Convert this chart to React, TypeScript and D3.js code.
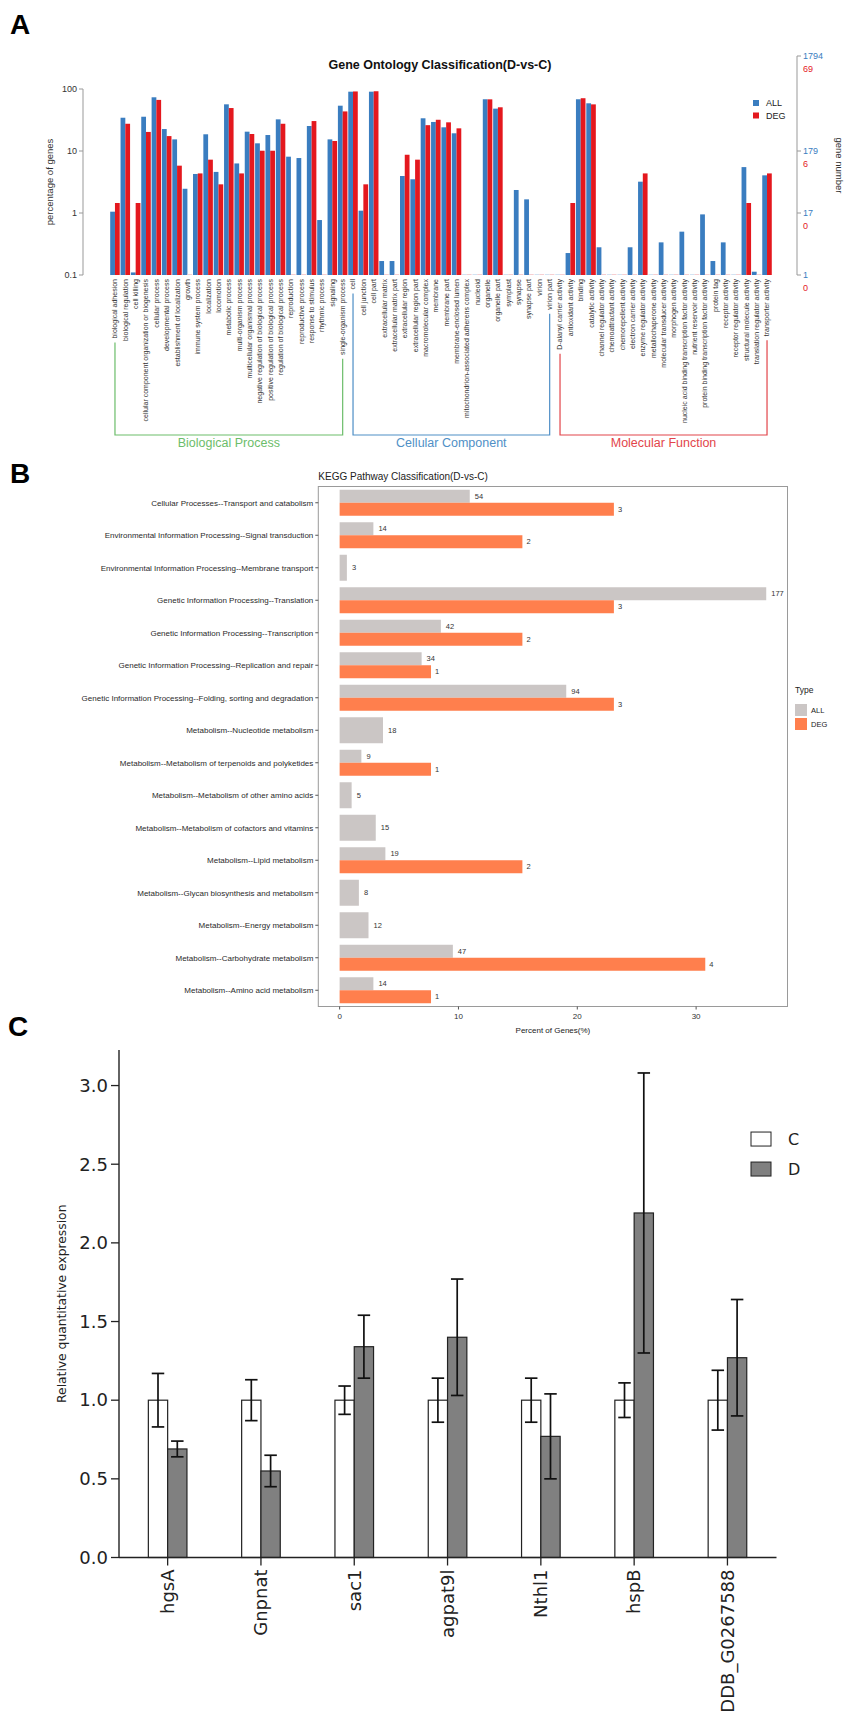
import React from 'react';
import * as d3 from 'd3';

// ---------------- Panel A data (GO classification) ----------------
const goCategories = [
  'biological adhesion', 'biological regulation', 'cell killing',
  'cellular component organization or biogenesis', 'cellular process',
  'developmental process', 'establishment of localization', 'growth',
  'immune system process', 'localization', 'locomotion', 'metabolic process',
  'multi-organism process', 'multicellular organismal process',
  'negative regulation of biological process', 'positive regulation of biological process',
  'regulation of biological process', 'reproduction', 'reproductive process',
  'response to stimulus', 'rhythmic process', 'signaling', 'single-organism process',
  'cell', 'cell junction', 'cell part', 'extracellular matrix', 'extracellular matrix part',
  'extracellular region', 'extracellular region part', 'macromolecular complex', 'membrane',
  'membrane part', 'membrane-enclosed lumen', 'mitochondrion-associated adherens complex',
  'nucleoid', 'organelle', 'organelle part', 'symplast', 'synapse', 'synapse part', 'virion',
  'virion part',
  'D-alanyl carrier activity', 'antioxidant activity', 'binding', 'catalytic activity',
  'channel regulator activity', 'chemoattractant activity', 'chemorepellent activity',
  'electron carrier activity', 'enzyme regulator activity', 'metallochaperone activity',
  'molecular transducer activity', 'morphogen activity',
  'nucleic acid binding transcription factor activity', 'nutrient reservoir activity',
  'protein binding transcription factor activity', 'protein tag', 'receptor activity',
  'receptor regulator activity', 'structural molecule activity',
  'translation regulator activity', 'transporter activity',
];

const goAll: (number | null)[] = [
  1.05, 34.4, 0.11, 35.7, 73.5, 22.6, 15.4, 2.46, 4.26, 18.6, 4.6, 56.6, 6.3, 20.5, 13.3, 18.1,
  32.4, 8.1, 7.7, 25.3, 0.77, 15.4, 53.8,
  90.5, 1.09, 90.5, 0.168, 0.168, 3.95, 3.5, 33.7, 29.4, 24.1, 19.3, null, null, 68.3, 48.2,
  null, 2.35, 1.66, null, null,
  null, 0.226, 68.3, 58.8, 0.28, null, null, 0.28, 3.2, null, 0.336, null, 0.5, null, 0.95,
  0.168, 0.336, null, 5.5, 0.113, 4.05,
];

const goDeg: (number | null)[] = [
  1.45, 27.5, 1.45, 20.3, 66.7, 17.4, 5.8, null, 4.35, 7.25, 2.9, 49.3, 4.35, 18.8, 10.1, 10.1,
  27.5, null, null, 30.4, null, 14.5, 43.5,
  91.3, 2.9, 92.0, null, null, 8.7, 7.25, 26.1, 31.9, 29.0, 23.2, null, null, 68.1, 50.7,
  null, null, null, null, null,
  null, 1.45, 71.0, 56.5, null, null, null, null, 4.35, null, null, null, null, null, null,
  null, null, null, 1.45, null, 4.35,
];

const goGroupNames = ['Biological Process', 'Cellular Component', 'Molecular Function'];
const goGroupFirst = ['biological adhesion', 'cell', 'D-alanyl carrier activity'];
const goGroupLast = ['single-organism process', 'virion part', 'transporter activity'];
const goGroupColors = ['#6cbd6a', '#4f8fc6', '#e2454a'];

const goTicks = [0.1, 1, 10, 100];
const goTickLabels = ['0.1', '1', '10', '100'];
const goAllNumbers = ['1', '17', '179', '1794'];
const goDegNumbers = ['0', '0', '6', '69'];

// ---------------- Panel B data (KEGG classification) ----------------
const keggPathways = [
  'Cellular Processes--Transport and catabolism',
  'Environmental Information Processing--Signal transduction',
  'Environmental Information Processing--Membrane transport',
  'Genetic Information Processing--Translation',
  'Genetic Information Processing--Transcription',
  'Genetic Information Processing--Replication and repair',
  'Genetic Information Processing--Folding, sorting and degradation',
  'Metabolism--Nucleotide metabolism',
  'Metabolism--Metabolism of terpenoids and polyketides',
  'Metabolism--Metabolism of other amino acids',
  'Metabolism--Metabolism of cofactors and vitamins',
  'Metabolism--Lipid metabolism',
  'Metabolism--Glycan biosynthesis and metabolism',
  'Metabolism--Energy metabolism',
  'Metabolism--Carbohydrate metabolism',
  'Metabolism--Amino acid metabolism',
];
const keggAllPct = [10.95, 2.84, 0.61, 35.9, 8.52, 6.9, 19.07, 3.65, 1.83, 1.01, 3.04, 3.85, 1.62, 2.43, 9.53, 2.84];
const keggAllCount = ['54', '14', '3', '177', '42', '34', '94', '18', '9', '5', '15', '19', '8', '12', '47', '14'];
const keggDegPct: (number | null)[] = [23.08, 15.38, null, 23.08, 15.38, 7.69, 23.08, null, 7.69, null, null, 15.38, null, null, 30.77, 7.69];
const keggDegCount: (string | null)[] = ['3', '2', null, '3', '2', '1', '3', null, '1', null, null, '2', null, null, '4', '1'];
const keggTicks = [0, 10, 20, 30];
const keggTypes = ['ALL', 'DEG'];

// ---------------- Panel C data (qPCR) ----------------
const qGenes = ['hgsA', 'Gnpnat', 'sac1', 'agpat9l', 'Nthl1', 'hspB', 'DDB_G0267588'];
const cMean = [1.0, 1.0, 1.0, 1.0, 1.0, 1.0, 1.0];
const cErr = [0.17, 0.13, 0.09, 0.14, 0.14, 0.11, 0.19];
const dMean = [0.69, 0.55, 1.34, 1.4, 0.77, 2.19, 1.27];
const dErr = [0.05, 0.1, 0.2, 0.37, 0.27, 0.89, 0.37];
const qTicks = [0, 0.5, 1.0, 1.5, 2.0, 2.5, 3.0];
const qSeries = ['C', 'D'];

// ---------------- helpers ----------------
let measureCtx: CanvasRenderingContext2D | null = null;
function textWidth(t: string, font: string): number {
  if (!measureCtx) measureCtx = document.createElement('canvas').getContext('2d');
  if (!measureCtx) return t.length * 3.4;
  measureCtx.font = font;
  return measureCtx.measureText(t).width;
}

const SANS = 'Liberation Sans, Arial, Helvetica, sans-serif';
const DJV = 'DejaVu Sans, sans-serif';

const BLUE = '#3a7dc0';
const RED = '#e4181e';

function PanelA() {
  const y = d3.scaleLog().domain([0.1, 100]).range([275, 89]);
  const x = d3.scaleBand<string>().domain(goCategories).range([109.8, 772.2]).paddingInner(0).paddingOuter(0);
  const bw = x.bandwidth();
  const half = bw * 0.46;
  const labelTop = 279;
  const labelFont = `7px ${SANS}`;
  const bracketY = 435;
  const leftAxisX = 83;
  const rightAxisX = 797;
  const rightTop = 56;
  const rightTickY = goTicks.map((t, i) => (i === goTicks.length - 1 ? rightTop : y(t)));

  return (
    <g>
      <text x={10} y={34} fontFamily={SANS} fontWeight="bold" fontSize={28} fill="#000">A</text>
      <text x={440} y={69} textAnchor="middle" fontFamily={SANS} fontWeight="bold" fontSize={12.5} fill="#111">
        Gene Ontology Classification(D-vs-C)
      </text>

      {/* left axis */}
      <line x1={leftAxisX} x2={leftAxisX} y1={y(100)} y2={y(0.1)} stroke="#999" strokeWidth={1} />
      {goTicks.map((t, i) => (
        <g key={'lt' + i}>
          <line x1={leftAxisX - 4} x2={leftAxisX} y1={y(t)} y2={y(t)} stroke="#999" />
          <text x={leftAxisX - 6} y={y(t)} dy="0.35em" textAnchor="end" fontFamily={SANS} fontSize={9} fill="#333">
            {goTickLabels[i]}
          </text>
        </g>
      ))}
      <text transform={`translate(53,${(y(100) + y(0.1)) / 2}) rotate(-90)`} textAnchor="middle"
        fontFamily={SANS} fontSize={9.5} fill="#333">percentage of genes</text>

      {/* right axis */}
      <line x1={rightAxisX} x2={rightAxisX} y1={rightTop} y2={y(0.1)} stroke="#999" strokeWidth={1} />
      {goTicks.map((t, i) => (
        <g key={'rt' + i}>
          <line x1={rightAxisX} x2={rightAxisX + 4} y1={rightTickY[i]} y2={rightTickY[i]} stroke="#999" />
          <text x={rightAxisX + 6} y={rightTickY[i]} dy="0.35em" fontFamily={SANS} fontSize={9} fill={BLUE}>
            {goAllNumbers[i]}
          </text>
          <text x={rightAxisX + 6} y={rightTickY[i] + 13} dy="0.35em" fontFamily={SANS} fontSize={9} fill={RED}>
            {goDegNumbers[i]}
          </text>
        </g>
      ))}
      <text transform={`translate(836,${(rightTop + y(0.1)) / 2}) rotate(90)`} textAnchor="middle"
        fontFamily={SANS} fontSize={9.5} fill="#333">gene number</text>

      {/* bars */}
      {goCategories.map((c, i) => {
        const x0 = x(c)!;
        const a = goAll[i];
        const d = goDeg[i];
        return (
          <g key={'b' + i}>
            {a != null ? (
              <rect x={x0 + 0.4} width={half} y={y(a)} height={y(0.1) - y(a)} fill={BLUE} />
            ) : (
              <rect x={x0 + 0.4} width={half} y={y(0.1) - 0.8} height={0.8} fill="#c9dcef" />
            )}
            {d != null ? (
              <rect x={x0 + 0.4 + half} width={half} y={y(d)} height={y(0.1) - y(d)} fill={RED} />
            ) : (
              <rect x={x0 + 0.4 + half} width={half} y={y(0.1) - 0.8} height={0.8} fill="#f4c4c6" />
            )}
          </g>
        );
      })}

      {/* category labels */}
      {goCategories.map((c, i) => (
        <text key={'l' + i} transform={`translate(${x(c)! + bw / 2},${labelTop}) rotate(-90)`}
          textAnchor="end" dy="0.35em" fontFamily={SANS} fontSize={7} fill="#333">{c}</text>
      ))}

      {/* group brackets */}
      {goGroupNames.map((g, gi) => {
        const xl = x(goGroupFirst[gi])! + bw / 2;
        const xr = x(goGroupLast[gi])! + bw / 2;
        const yl = labelTop + textWidth(goGroupFirst[gi], labelFont) + 4;
        const yr = labelTop + textWidth(goGroupLast[gi], labelFont) + 4;
        return (
          <g key={'g' + gi}>
            <path d={`M${xl},${yl}V${bracketY}H${xr}V${yr}`} fill="none" stroke={goGroupColors[gi]} strokeWidth={1.2} />
            <text x={(xl + xr) / 2} y={447} textAnchor="middle" fontFamily={SANS} fontSize={12.5}
              fill={goGroupColors[gi]}>{g}</text>
          </g>
        );
      })}

      {/* legend */}
      {['ALL', 'DEG'].map((n, i) => (
        <g key={'lg' + i}>
          <rect x={753} y={100 + i * 12.5} width={6} height={6} fill={i === 0 ? BLUE : RED} />
          <text x={766} y={103 + i * 12.5} dy="0.35em" fontFamily={SANS} fontSize={9} fill="#222">{n}</text>
        </g>
      ))}
    </g>
  );
}

function PanelB() {
  const left = 318.3, right = 787.5, top = 486.5, bottom = 1006.5;
  const x = d3.scaleLinear().domain([-1.795, 37.69]).range([left, right]);
  const y = d3.scaleBand<string>().domain(keggPathways).range([top, bottom]).paddingInner(0.2).paddingOuter(0.1);
  const bh = y.bandwidth();
  const GRAY = '#cbc6c5';
  const ORANGE = '#ff7f4d';
  return (
    <g>
      <text x={10} y={483} fontFamily={SANS} fontWeight="bold" fontSize={28} fill="#000">B</text>
      <text x={left} y={480} fontFamily={SANS} fontSize={10} fill="#222">KEGG Pathway Classification(D-vs-C)</text>
      <rect x={left} y={top} width={right - left} height={bottom - top} fill="none" stroke="#9a9a9a" strokeWidth={1} />
      {keggPathways.map((p, i) => {
        const y0 = y(p)!;
        const yc = y0 + bh / 2;
        const hasDeg = keggDegPct[i] != null;
        const gh = hasDeg ? bh / 2 : bh;
        return (
          <g key={'k' + i}>
            <line x1={left - 3} x2={left} y1={yc} y2={yc} stroke="#555" />
            <text x={left - 5} y={yc} dy="0.35em" textAnchor="end" fontFamily={SANS} fontSize={8} fill="#2a2a2a">{p}</text>
            <rect x={x(0)} y={y0} width={x(keggAllPct[i]) - x(0)} height={gh} fill={GRAY} />
            <text x={x(keggAllPct[i]) + 5} y={y0 + gh / 2} dy="0.35em" fontFamily={SANS} fontSize={7.5} fill="#333">
              {keggAllCount[i]}
            </text>
            {hasDeg && (
              <>
                <rect x={x(0)} y={y0 + bh / 2} width={x(keggDegPct[i]!) - x(0)} height={bh / 2} fill={ORANGE} />
                <text x={x(keggDegPct[i]!) + 4} y={y0 + bh * 0.75} dy="0.35em" fontFamily={SANS} fontSize={7.5} fill="#333">
                  {keggDegCount[i]}
                </text>
              </>
            )}
          </g>
        );
      })}
      {keggTicks.map((t) => (
        <g key={'kt' + t}>
          <line x1={x(t)} x2={x(t)} y1={bottom} y2={bottom + 3} stroke="#555" />
          <text x={x(t)} y={bottom + 12} textAnchor="middle" fontFamily={SANS} fontSize={8} fill="#333">{t}</text>
        </g>
      ))}
      <text x={(left + right) / 2} y={bottom + 26} textAnchor="middle" fontFamily={SANS} fontSize={8} fill="#222">
        Percent of Genes(%)
      </text>
      {/* legend */}
      <text x={795} y={693} fontFamily={SANS} fontSize={8.5} fill="#222">Type</text>
      {keggTypes.map((t, i) => (
        <g key={'kl' + i}>
          <rect x={795} y={704 + i * 14} width={12} height={12} fill={i === 0 ? GRAY : ORANGE} />
          <text x={811} y={710 + i * 14} dy="0.35em" fontFamily={SANS} fontSize={7.5} fill="#222">{t}</text>
        </g>
      ))}
    </g>
  );
}

function PanelC() {
  const axisX = 119;
  const yTop = 3.226;
  const y = d3.scaleLinear().domain([0, yTop]).range([1557.5, 1050]);
  const x = d3.scaleBand<string>().domain(qGenes).range([121, 774.1]);
  const step = x.bandwidth();
  const barW = 19.3;
  const capW = 12.5;
  const xEnd = 776.5;
  const legendY = y(2.66);
  return (
    <g>
      <text x={8} y={1036} fontFamily={SANS} fontWeight="bold" fontSize={28} fill="#000">C</text>
      {qGenes.map((g, i) => {
        const cx = x(g)! + step / 2;
        const items = [
          { x0: cx - barW, v: cMean[i], e: cErr[i], fill: '#ffffff' },
          { x0: cx, v: dMean[i], e: dErr[i], fill: '#808080' },
        ];
        return (
          <g key={'q' + i}>
            {items.map((it, j) => (
              <g key={j}>
                <rect x={it.x0} y={y(it.v)} width={barW} height={y(0) - y(it.v)} fill={it.fill} stroke="#222" strokeWidth={1.2} />
                <line x1={it.x0 + barW / 2} x2={it.x0 + barW / 2} y1={y(it.v + it.e)} y2={y(it.v - it.e)} stroke="#111" strokeWidth={1.7} />
                <line x1={it.x0 + barW / 2 - capW / 2} x2={it.x0 + barW / 2 + capW / 2} y1={y(it.v + it.e)} y2={y(it.v + it.e)} stroke="#111" strokeWidth={1.7} />
                <line x1={it.x0 + barW / 2 - capW / 2} x2={it.x0 + barW / 2 + capW / 2} y1={y(it.v - it.e)} y2={y(it.v - it.e)} stroke="#111" strokeWidth={1.7} />
              </g>
            ))}
            <line x1={cx} x2={cx} y1={y(0)} y2={y(0) + 8} stroke="#222" strokeWidth={1.3} />
            <text transform={`translate(${cx},${y(0) + 12}) rotate(-90)`} textAnchor="end" dy="0.35em"
              fontFamily={DJV} fontSize={18} fill="#222">{g}</text>
          </g>
        );
      })}
      <line x1={axisX} x2={axisX} y1={y(yTop)} y2={y(0)} stroke="#222" strokeWidth={1.4} />
      <line x1={axisX} x2={xEnd} y1={y(0)} y2={y(0)} stroke="#222" strokeWidth={1.4} />
      {qTicks.map((t) => (
        <g key={'qt' + t}>
          <line x1={axisX - 8} x2={axisX} y1={y(t)} y2={y(t)} stroke="#222" strokeWidth={1.3} />
          <text x={axisX - 11} y={y(t)} dy="0.35em" textAnchor="end" fontFamily={DJV} fontSize={18} fill="#222">
            {t.toFixed(1)}
          </text>
        </g>
      ))}
      <text transform={`translate(66,${(y(0) + y(yTop)) / 2}) rotate(-90)`} textAnchor="middle"
        fontFamily={DJV} fontSize={12.3} fill="#222">Relative quantitative expression</text>
      {qSeries.map((s, i) => (
        <g key={'ql' + i}>
          <rect x={751} y={legendY - 7 + i * 30} width={20} height={14} fill={i === 0 ? '#ffffff' : '#808080'} stroke="#222" strokeWidth={1} />
          <text x={788} y={legendY + i * 30} dy="0.35em" fontFamily={DJV} fontSize={16} fill="#222">{s}</text>
        </g>
      ))}
    </g>
  );
}

export default function App() {
  return (
    <svg width={850} height={1725} viewBox="0 0 850 1725"
      style={{ position: 'absolute', left: 0, top: 0, background: '#fff' }}>
      <rect width={850} height={1725} fill="#fff" />
      <PanelA />
      <PanelB />
      <PanelC />
    </svg>
  );
}
